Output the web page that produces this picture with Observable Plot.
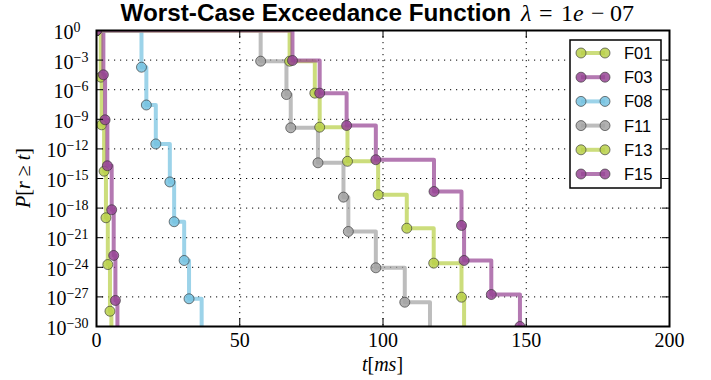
<!DOCTYPE html>
<html><head><meta charset="utf-8">
<script src="https://cdn.jsdelivr.net/npm/d3@7"></script>
<script src="https://cdn.jsdelivr.net/npm/@observablehq/plot@0.6"></script>
<style>
body{margin:0;background:#fff;}
#wrap{position:relative;width:711px;height:380px;overflow:hidden;background:#fff;}
#title{display:block;overflow:visible;}
#chart svg{overflow:visible;}
#legend{position:absolute;left:569px;top:38.5px;}
</style></head><body>
<div id="wrap">
<svg id="title" width="711" height="26"></svg>
<div id="chart"></div>
</div>
<script>
// ---- data ----
const titleText = "Worst-Case Exceedance Function";
const xTicks = [0, 50, 100, 150, 200];
const yTickExps = [0, -3, -6, -9, -12, -15, -18, -21, -24, -27, -30];
const seriesNames = ["F01", "F03", "F08", "F11", "F13", "F15"];
const seriesColors = ["#b9d04a", "#974594", "#76c2e0", "#a3a3a3", "#b9d04a", "#974594"];

// time [ms] and log10 P[r >= t] of each step point
const F01_t    = [0, 1.5, 1.8, 2.65, 3.3, 3.95, 4.7, 5.2];
const F01_logp = [0, -4.73, -9.56, -14.26, -18.98, -23.72, -28.45, -32];
const F03_t    = [0, 2.4, 3.0, 3.8, 5.3, 6.0, 6.6, 7.3];
const F03_logp = [0, -4.49, -9.05, -13.71, -18.17, -22.8, -27.36, -32];
const F08_t    = [0, 15.7, 17.4, 20.7, 25.6, 27.1, 30.6, 32.3, 36.7];
const F08_logp = [0, -3.72, -7.55, -11.5, -15.35, -19.38, -23.31, -27.19, -32];
const F11_t    = [0, 57.3, 66.3, 67.8, 77.3, 86.2, 87.9, 97.5, 107.6, 116.4];
const F11_logp = [0, -3.11, -6.49, -9.86, -13.41, -16.89, -20.37, -24.05, -27.54, -32];
const F13_t    = [0, 67.4, 76.2, 77.9, 87.6, 98.3, 108.3, 117.7, 127.4, 128.3];
const F13_logp = [0, -3.11, -6.35, -9.80, -13.26, -16.65, -20.04, -23.58, -27.03, -32];
const F15_t    = [0, 68.4, 77.9, 87.3, 97.5, 117.8, 127.4, 128.3, 137.8, 147.8];
const F15_logp = [0, -3.04, -6.35, -9.63, -13.1, -16.32, -19.76, -23.31, -26.76, -30];

const seriesT = [F01_t, F03_t, F08_t, F11_t, F13_t, F15_t];
const seriesLogP = [F01_logp, F03_logp, F08_logp, F11_logp, F13_logp, F15_logp];

const yTicks = yTickExps.map(e => Math.pow(10, e));
const series = seriesNames.map((name, i) => ({
  name, color: seriesColors[i],
  pts: seriesT[i].map((t, j) => ({t, p: Math.pow(10, seriesLogP[i][j])}))
}));

// ---- title ----
const tsvg = d3.select("#title");
const tb = tsvg.append("text").attr("x", 120.5).attr("y", 21)
  .attr("font-family", "'Liberation Sans', Arial, sans-serif").attr("font-weight", "bold")
  .attr("font-size", 24).text(titleText);
const w0 = tb.node().getComputedTextLength();
tb.attr("font-size", 24 * 391 / w0);
// math part, glyph groups placed like the LaTeX rendering (null x = natural flow)
const mathParts = [["λ", 521, true], ["=", 539, false], ["1", 561, false], ["e", null, true], ["\u2212", 591, false], ["07", 610, false]];
const tm = tsvg.append("text").attr("y", 21).attr("font-family", "'Liberation Serif', serif").attr("font-size", 24);
mathParts.forEach(([s, x, it]) => {
  const sp = tm.append("tspan").text(s);
  if (x !== null) sp.attr("x", x);
  if (it) sp.attr("font-style", "italic");
});

// ---- chart ----
const W = 711, H = 354, mT = 4, mB = 54, mL = 96, mR = 42;
const plotW = W - mL - mR, plotH = H - mT - mB;
const gridStyle = {stroke: "black", strokeOpacity: 1, strokeWidth: 1, strokeDasharray: "1.2,4.8"};

const marks = [
  Plot.gridX(xTicks, gridStyle),
  Plot.gridY(yTicks, gridStyle)
];
for (const s of series) {
  marks.push(Plot.line(s.pts, {x: "t", y: "p", curve: "step-after", stroke: s.color,
    strokeWidth: 4, strokeOpacity: 0.72, strokeLinejoin: "round", clip: true}));
  marks.push(Plot.dot(s.pts, {x: "t", y: "p", r: 5, fill: s.color, fillOpacity: 0.85,
    stroke: "#333", strokeWidth: 0.8, strokeOpacity: 0.8, clip: true}));
}
marks.push(
  Plot.tickX(xTicks, {x: d => d, insetTop: plotH - 8, stroke: "black", strokeWidth: 1}),
  Plot.tickX(xTicks, {x: d => d, insetBottom: plotH - 8, stroke: "black", strokeWidth: 1}),
  Plot.tickY(yTicks, {y: d => d, insetRight: plotW - 7, stroke: "black", strokeWidth: 1}),
  Plot.tickY(yTicks, {y: d => d, insetLeft: plotW - 7, stroke: "black", strokeWidth: 1}),
  Plot.axisX(xTicks, {tickSize: 0, tickPadding: 6, label: null, fontSize: 20}),
  Plot.axisY(yTicks, {tickSize: 0, tickPadding: 8, label: null, fontSize: 20,
    tickFormat: d => String(Math.round(Math.log10(d)))}),
  Plot.frame({stroke: "black", strokeWidth: 2})
);

const chart = Plot.plot({
  width: W, height: H,
  marginTop: mT, marginBottom: mB, marginLeft: mL, marginRight: mR,
  x: {domain: [0, 200], ticks: xTicks},
  y: {type: "log", domain: [1e-30, 1], ticks: yTicks},
  style: {fontFamily: "'Liberation Serif', serif", fontSize: "20px", color: "black", background: "transparent", overflow: "visible"},
  marks
});
document.getElementById("chart").appendChild(chart);

// superscript tick labels 10^n
const svg = d3.select(chart);
svg.selectAll('g[aria-label="y-axis tick label"] text').each(function () {
  const e = this.textContent;
  const t = d3.select(this);
  t.text(null);
  t.append("tspan").attr("dy", "2").text("10");
  t.append("tspan").attr("dy", "-7").attr("font-size", "14px").text(e.replace("-", "\u2212"));
  if (e === "0") t.append("tspan").attr("font-size", "16px").text("\u2002");
});

// axis labels
const xs = chart.scale("x"), ys = chart.scale("y");
const xMid = (xs.apply(0) + xs.apply(200)) / 2;
const yMid = (ys.apply(1) + ys.apply(1e-30)) / 2;
const xl = svg.append("text").attr("x", xMid).attr("y", H - 9).attr("text-anchor", "middle")
  .attr("font-size", 20).attr("font-family", "'Liberation Serif', serif");
xl.append("tspan").attr("font-style", "italic").text("t");
xl.append("tspan").text("[");
xl.append("tspan").attr("font-style", "italic").text("ms");
xl.append("tspan").text("]");
const yl = svg.append("text").attr("transform", `translate(30,${yMid}) rotate(-90)`)
  .attr("text-anchor", "middle").attr("font-size", 20).attr("font-family", "'Liberation Serif', serif");
yl.append("tspan").attr("font-style", "italic").text("P");
yl.append("tspan").text("[");
yl.append("tspan").attr("font-style", "italic").text("r");
yl.append("tspan").text(" \u2265 ");
yl.append("tspan").attr("font-style", "italic").text("t");
yl.append("tspan").text("]");

// legend box
const lw = 92, lh = 149, rowH = 24.2;
const leg = d3.select("#wrap").append("svg").attr("id", "legend").attr("width", lw + 2).attr("height", lh + 2);
leg.append("rect").attr("x", 1).attr("y", 1).attr("width", lw - 1).attr("height", lh - 1)
  .attr("fill", "white").attr("stroke", "black").attr("stroke-width", 1.5);
series.forEach((s, i) => {
  const y = 14 + i * rowH;
  const g = leg.append("g");
  g.append("line").attr("x1", 12).attr("x2", 36).attr("y1", y).attr("y2", y)
    .attr("stroke", s.color).attr("stroke-width", 4).attr("stroke-opacity", 0.72);
  [12, 36].forEach(cx => g.append("circle").attr("cx", cx).attr("cy", y).attr("r", 5)
    .attr("fill", s.color).attr("fill-opacity", 0.85).attr("stroke", "#333").attr("stroke-width", 0.8).attr("stroke-opacity", 0.8));
  g.append("text").attr("x", 55).attr("y", y + 6).attr("font-family", "'Liberation Sans', Arial, sans-serif")
    .attr("font-size", 16.5).text(s.name);
});
</script>
</body></html>
